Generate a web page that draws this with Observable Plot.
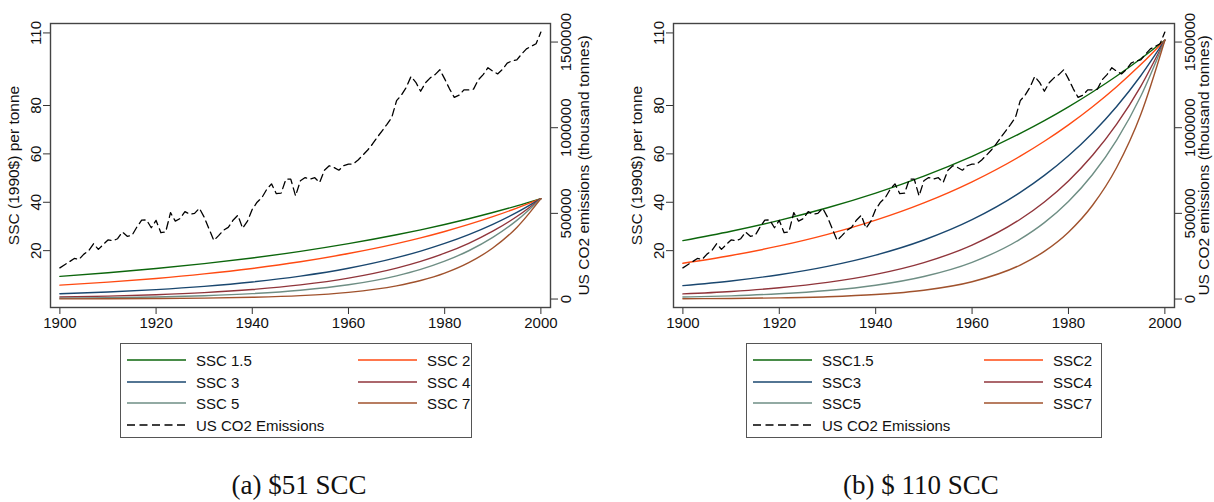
<!DOCTYPE html>
<html>
<head>
<meta charset="utf-8">
<script src="https://cdn.jsdelivr.net/npm/d3@7"></script>
<script src="https://cdn.jsdelivr.net/npm/@observablehq/plot@0.6"></script>
<style>
  body { margin: 0; background: #fff; }
  #page { position: relative; width: 1214px; height: 502px; overflow: hidden;
          font-family: "Liberation Sans", Arial, sans-serif; color: #111; }
  .panel { position: absolute; top: 0; }
  .legend { position: absolute; top: 343px; height: 95px; border: 1px solid #555; box-sizing: border-box; background: #fff; }
  .legend .item { position: absolute; height: 20px; display: flex; align-items: center; font-size: 15px; white-space: nowrap; }
  .legend svg { display: block; margin-right: 10px; }
  .caption { position: absolute; top: 470px; font-family: "Liberation Serif", "Times New Roman", serif;
             font-size: 27px; white-space: nowrap; transform: translateX(-50%); }
</style>
</head>
<body>
<div id="page"></div>
<script>
// Horizontal axis
const sscYears = [1900, 1910, 1920, 1930, 1940, 1950, 1960, 1970, 1975, 1980, 1985, 1990, 1995, 2000];
const xTicks = [1900, 1920, 1940, 1960, 1980, 2000];
const leftTicks = [20, 40, 60, 80, 110];
const rightTicks = [0, 500000, 1000000, 1500000];

// Series order and colours
const sscRates = ["1.5", "2", "3", "4", "5", "7"];
const sscColors = ["#0c660c", "#ff4a12", "#1a476f", "#90353b", "#6e8e84", "#a0522d"];

// Panel (a): SSC per tonne (1990$)
const sscA15 = [9.36, 10.87, 12.61, 14.64, 16.99, 19.71, 22.88, 26.55, 28.60, 30.81, 33.20, 35.76, 38.52, 41.5];
const sscA2  = [5.73, 6.98, 8.51, 10.38, 12.65, 15.42, 18.80, 22.91, 25.29, 27.93, 30.83, 34.04, 37.59, 41.5];
const sscA3  = [2.16, 2.90, 3.90, 5.24, 7.04, 9.47, 12.72, 17.10, 19.82, 22.98, 26.64, 30.88, 35.80, 41.5];
const sscA4  = [0.82, 1.22, 1.80, 2.66, 3.95, 5.84, 8.64, 12.79, 15.57, 18.94, 23.04, 28.04, 34.11, 41.5];
const sscA5  = [0.32, 0.51, 0.84, 1.37, 2.22, 3.62, 5.89, 9.60, 12.25, 15.64, 19.96, 25.48, 32.52, 41.5];
const sscA7  = [0.05, 0.09, 0.19, 0.36, 0.72, 1.41, 2.77, 5.45, 7.64, 10.72, 15.04, 21.09, 29.59, 41.5];

// Panel (b): SSC per tonne (1990$)
const sscB15 = [24.14, 28.02, 32.52, 37.74, 43.80, 50.83, 58.99, 68.46, 73.74, 79.45, 85.59, 92.20, 99.33, 107];
const sscB2  = [14.77, 18.00, 21.95, 26.75, 32.61, 39.75, 48.46, 59.07, 65.22, 72.01, 79.50, 87.77, 96.91, 107];
const sscB3  = [5.56, 7.48, 10.06, 13.51, 18.16, 24.41, 32.81, 44.08, 51.10, 59.25, 68.68, 79.62, 92.30, 107];
const sscB4  = [2.12, 3.14, 4.64, 6.87, 10.18, 15.05, 22.29, 32.99, 40.14, 48.83, 59.42, 72.29, 87.94, 107];
const sscB5  = [0.81, 1.32, 2.16, 3.52, 5.72, 9.33, 15.19, 24.76, 31.60, 40.33, 51.47, 65.69, 83.83, 107];
const sscB7  = [0.12, 0.24, 0.48, 0.94, 1.85, 3.63, 7.15, 14.06, 19.71, 27.65, 38.78, 54.39, 76.29, 107];

// US CO2 emissions, thousand tonnes, 1900-2000
const emissionYears = d3.range(1900, 2001);
const emissions = [
  182000, 200000, 218000, 237000, 232000, 262000, 282000, 323000, 290000, 318000,
  345000, 340000, 352000, 391000, 366000, 372000, 420000, 460000, 462000, 416000,
  459000, 387000, 392000, 504000, 455000, 470000, 510000, 495000, 500000, 530000,
  478000, 410000, 342000, 370000, 401000, 418000, 460000, 489000, 413000, 455000,
  524000, 565000, 592000, 640000, 672000, 615000, 618000, 700000, 700000, 602000,
  690000, 709000, 700000, 708000, 680000, 752000, 778000, 768000, 752000, 778000,
  788000, 788000, 812000, 840000, 870000, 905000, 945000, 982000, 1020000, 1060000,
  1158000, 1190000, 1235000, 1299000, 1265000, 1213000, 1262000, 1291000, 1310000, 1338000,
  1285000, 1227000, 1177000, 1190000, 1221000, 1221000, 1225000, 1280000, 1310000, 1350000,
  1330000, 1314000, 1340000, 1377000, 1390000, 1396000, 1430000, 1460000, 1475000, 1490000,
  1558000
];

// Thousand tonnes of emissions per unit of the left (SSC) axis; both axes share zero
const TONNES_PER_UNIT = 14120;

const leftTitle = "SSC (1990$) per tonne";
const rightTitle = "US CO2 emissions (thousand tonnes)";

const FONT = '"Liberation Sans", Arial, sans-serif';

function drawPanel(series, {left, marginLeft, marginRight, rightTitleOffset}) {
  const emis = emissionYears.map((year, i) => ({year, value: emissions[i]}));
  const sscMarks = series.map((vals, j) =>
    Plot.line(vals.map((v, i) => ({year: sscYears[i], value: v})), {
      x: "year", y: "value", stroke: sscColors[j], strokeWidth: 1.4, curve: "monotone-x"
    })
  );
  const chart = Plot.plot({
    width: 607,
    height: 335,
    marginTop: 23,
    marginBottom: 28,
    marginLeft,
    marginRight,
    style: {fontFamily: FONT, fontSize: "15px", color: "#111", background: "transparent", overflow: "visible"},
    x: {domain: [1898.05, 2002]},
    y: {domain: [-3.5, 113.9]},
    marks: [
      Plot.axisX({ticks: xTicks, tickSize: 7, tickFormat: d => String(d), label: null, stroke: "#333"}),
      Plot.axisY({ticks: leftTicks, tickSize: 7, tickRotate: -90, label: null, stroke: "#333"}),
      Plot.axisY({
        anchor: "right",
        ticks: rightTicks.map(v => v / TONNES_PER_UNIT),
        tickFormat: d => String(Math.round(d * TONNES_PER_UNIT / 1000) * 1000),
        tickSize: 7, tickRotate: -90, lineAnchor: "top", label: null, stroke: "#333"
      }),
      Plot.text([leftTitle], {text: d => d, frameAnchor: "left", textAnchor: "middle", dx: -36, rotate: -90, fontSize: 15.5, fill: "#111"}),
      Plot.text([rightTitle], {text: d => d, frameAnchor: "right", textAnchor: "middle", dx: rightTitleOffset, rotate: -90, fontSize: 15.5, fill: "#111"}),
      ...sscMarks,
      Plot.line(emis, {
        x: "year", y: d => d.value / TONNES_PER_UNIT,
        stroke: "#000", strokeWidth: 1.3, strokeDasharray: "7.5,4.5"
      }),
      Plot.frame({stroke: "#444", strokeWidth: 1.4})
    ]
  });
  chart.classList.add("panel");
  chart.style.left = left + "px";
  return chart;
}

function drawLegend(labels, {left, width}) {
  const box = document.createElement("div");
  box.className = "legend";
  box.style.left = left + "px";
  box.style.width = width + "px";
  const rowsY = [6, 28, 49, 71];
  const colsX = [6, 237];
  const entries = labels.map((label, j) => ({label, color: sscColors[j], dash: null, row: Math.floor(j / 2), col: j % 2}));
  entries.push({label: "US CO2 Emissions", color: "#000", dash: "8,4.5", row: 3, col: 0});
  for (const e of entries) {
    const item = document.createElement("div");
    item.className = "item";
    item.style.left = colsX[e.col] + "px";
    item.style.top = rowsY[e.row] + "px";
    item.innerHTML =
      `<svg width="59" height="4"><line x1="0" x2="59" y1="2" y2="2" stroke="${e.color}" stroke-width="1.4"` +
      (e.dash ? ` stroke-dasharray="${e.dash}"` : "") + `/></svg><span>${e.label}</span>`;
    box.appendChild(item);
  }
  return box;
}

function caption(text, center) {
  const el = document.createElement("div");
  el.className = "caption";
  el.style.left = center + "px";
  el.textContent = text;
  return el;
}

const page = document.getElementById("page");
page.appendChild(drawPanel([sscA15, sscA2, sscA3, sscA4, sscA5, sscA7], {left: 0, marginLeft: 50, marginRight: 57, rightTitleOffset: 34}));
page.appendChild(drawPanel([sscB15, sscB2, sscB3, sscB4, sscB5, sscB7], {left: 607, marginLeft: 66, marginRight: 40, rightTitleOffset: 30}));
page.appendChild(drawLegend(sscRates.map(r => "SSC " + r), {left: 120, width: 352}));
page.appendChild(drawLegend(sscRates.map(r => "SSC" + r), {left: 746, width: 356}));
page.appendChild(caption("(a) $51 SCC", 299));
page.appendChild(caption("(b) $ 110 SCC", 921));
</script>
</body>
</html>
